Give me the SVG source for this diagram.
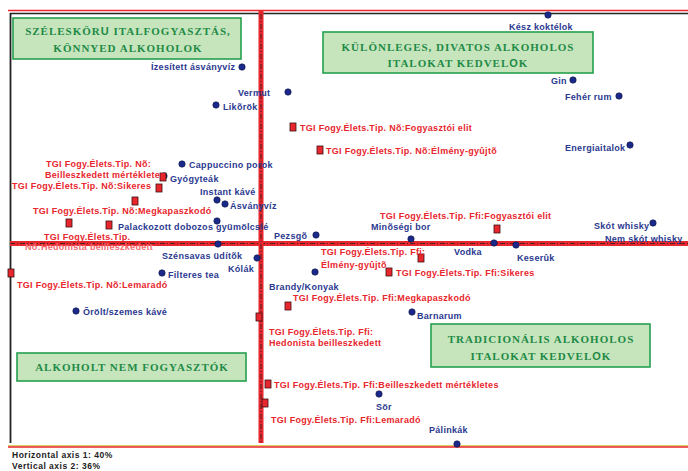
<svg xmlns="http://www.w3.org/2000/svg" width="688" height="471" viewBox="0 0 688 471">
<style>
.bl{font-family:"Liberation Sans",Arial,sans-serif;font-weight:bold;font-size:9px;letter-spacing:0.3px;fill:#2b3990}
.rd{font-family:"Liberation Sans",Arial,sans-serif;font-weight:bold;font-size:9px;letter-spacing:0.3px;fill:#e8262d}
.bx{fill:#c6e5bd;stroke:#26a04e;stroke-width:1.6}
.bt{font-family:"Liberation Serif","Times New Roman",serif;font-weight:bold;font-size:11px;letter-spacing:1px;fill:#1e8a45;text-anchor:middle}
.dot{fill:#1b2a8a;stroke:#0d1440;stroke-width:0.6}
.sq{fill:#e8262d;stroke:#3a1010;stroke-width:0.8}
.ft{font-family:"Liberation Sans",Arial,sans-serif;font-weight:bold;font-size:8.5px;letter-spacing:0.5px;fill:#222}
</style>
<rect x="0" y="0" width="688" height="471" fill="#fff"/>
<g id="frame">
<line x1="8" y1="10.5" x2="688" y2="10.5" stroke="#e8262d" stroke-width="1.5"/>
<line x1="10" y1="13.5" x2="688" y2="13.5" stroke="#222" stroke-width="1.6"/>
<line x1="10.5" y1="13" x2="10.5" y2="443" stroke="#222" stroke-width="1.8"/>
<line x1="8" y1="445.8" x2="688" y2="445.8" stroke="#c8b400" stroke-width="0.9"/>
<line x1="8" y1="447" x2="688" y2="447" stroke="#e8262d" stroke-width="1.3"/>
</g>
<g id="connectors">
<line x1="10" y1="243.5" x2="688" y2="243.5" stroke="#e8262d" stroke-width="5"/>
<line x1="10" y1="243.5" x2="688" y2="243.5" stroke="#222" stroke-width="0.8" stroke-dasharray="5 2 1 2"/>
<line x1="261" y1="10" x2="261" y2="443" stroke="#e8262d" stroke-width="5"/>
<line x1="261" y1="14" x2="261" y2="443" stroke="#222" stroke-width="0.8" stroke-dasharray="5 2 1 2"/>
</g>
<g id="box-szeleskoru">
<rect class="bx" x="13" y="18" width="228" height="41"/>
<text class="bt" x="128" y="35">SZÉLESKÖR<tspan font-family="'Liberation Sans',Arial,sans-serif">U</tspan> ITALFOGYASZTÁS,</text>
<text class="bt" x="128" y="52">KÖNNYED ALKOHOLOK</text>
</g>
<g id="box-kulonleges">
<rect class="bx" x="323" y="32" width="270" height="41"/>
<text class="bt" x="458" y="51">KÜLÖNLEGES, DIVATOS ALKOHOLOS</text>
<text class="bt" x="458" y="67">ITALOKAT KEDVEL<tspan font-family="'Liberation Sans',Arial,sans-serif">O</tspan>K</text>
</g>
<g id="box-tradicionalis">
<rect class="bx" x="431" y="324" width="219" height="43"/>
<text class="bt" x="541" y="343">TRADICIONÁLIS  ALKOHOLOS</text>
<text class="bt" x="541" y="360">ITALOKAT KEDVEL<tspan font-family="'Liberation Sans',Arial,sans-serif">O</tspan>K</text>
</g>
<g id="box-alkoholt-nem">
<rect class="bx" x="17" y="353" width="229" height="28"/>
<text class="bt" x="132" y="371">ALKOHOLT NEM FOGYASZTÓK</text>
</g>
<g id="n-izesitett"><circle class="dot" cx="242" cy="67" r="3.2"/><text class="bl" x="151" y="70">Ízesített ásványvíz</text></g>
<g id="n-vermut"><circle class="dot" cx="288" cy="92" r="3.2"/><text class="bl" x="238" y="96">Vermut</text></g>
<g id="n-likorok"><circle class="dot" cx="216" cy="105" r="3.2"/><text class="bl" x="223" y="110">Likõrök</text></g>
<g id="n-kesz"><circle class="dot" cx="548" cy="15" r="3.2"/><text class="bl" x="509" y="30">Kész koktélok</text></g>
<g id="n-gin"><circle class="dot" cx="573" cy="80" r="3.2"/><text class="bl" x="551" y="84">Gin</text></g>
<g id="n-feherrum"><circle class="dot" cx="619" cy="96" r="3.2"/><text class="bl" x="565" y="100">Fehér rum</text></g>
<g id="n-energia"><circle class="dot" cx="630" cy="145" r="3.2"/><text class="bl" x="565" y="151">Energiaitalok</text></g>
<g id="n-cappuccino"><circle class="dot" cx="182" cy="164" r="3.2"/><text class="bl" x="189" y="168">Cappuccino porok</text></g>
<g id="n-gyogyteak"><circle class="dot" cx="164" cy="176" r="3.2"/><text class="bl" x="170" y="182">Gyógyteák</text></g>
<g id="n-instant"><circle class="dot" cx="217" cy="200" r="3.2"/><text class="bl" x="200" y="195">Instant kávé</text></g>
<g id="n-asvanyviz"><circle class="dot" cx="225" cy="204" r="3.2"/><text class="bl" x="230" y="209">Ásványvíz</text></g>
<g id="n-palackozott"><circle class="dot" cx="217" cy="221" r="3.2"/><text class="bl" x="118" y="230">Palackozott dobozos gyümölcslé</text></g>
<g id="n-pezsgo"><circle class="dot" cx="316" cy="235" r="3.2"/><text class="bl" x="274" y="239">Pezsgõ</text></g>
<g id="n-minosegi"><circle class="dot" cx="411" cy="239" r="3.2"/><text class="bl" x="371" y="230">Minõségi bor</text></g>
<g id="n-skot"><circle class="dot" cx="653" cy="223" r="3.2"/><text class="bl" x="594" y="229">Skót whisky</text></g>
<g id="n-nemskot"><text class="bl" x="605" y="242">Nem skót whisky</text></g>
<g id="n-vodka"><circle class="dot" cx="494" cy="243" r="3.2"/><text class="bl" x="454" y="255">Vodka</text></g>
<g id="n-keseruk"><circle class="dot" cx="516" cy="245" r="3.2"/><text class="bl" x="517" y="261">Keserûk</text></g>
<g id="n-szensavas"><circle class="dot" cx="218" cy="244" r="3.2"/><text class="bl" x="162" y="259">Szénsavas üdítõk</text></g>
<g id="n-kolak"><circle class="dot" cx="257" cy="258" r="3.2"/><text class="bl" x="228" y="272">Kólák</text></g>
<g id="n-filteres"><circle class="dot" cx="162" cy="273" r="3.2"/><text class="bl" x="168" y="278">Filteres tea</text></g>
<g id="n-orolt"><circle class="dot" cx="76" cy="311" r="3.2"/><text class="bl" x="83" y="315">Õrölt/szemes kávé</text></g>
<g id="n-brandy"><circle class="dot" cx="315" cy="272" r="3.2"/><text class="bl" x="269" y="290">Brandy/Konyak</text></g>
<g id="n-barnarum"><circle class="dot" cx="412" cy="312" r="3.2"/><text class="bl" x="417" y="319">Barnarum</text></g>
<g id="n-sor"><circle class="dot" cx="379" cy="394" r="3.2"/><text class="bl" x="376" y="410">Sör</text></g>
<g id="n-palinkak"><circle class="dot" cx="457" cy="444" r="3.2"/><text class="bl" x="429" y="433">Pálinkák</text></g>
<g id="t-no-fogyasztoi"><rect class="sq" x="290" y="123" width="6" height="8"/><text class="rd" x="300" y="131">TGI Fogy.Élets.Tip. Nõ:Fogyasztói elit</text></g>
<g id="t-no-elmeny"><rect class="sq" x="317" y="146" width="6" height="8"/><text class="rd" x="326" y="154">TGI Fogy.Élets.Tip. Nõ:Élmény-gyûjtõ</text></g>
<g id="t-no-beill"><rect class="sq" x="160" y="173" width="6" height="8"/><text class="rd" x="46" y="167">TGI Fogy.Élets.Tip. Nõ:</text><text class="rd" x="45" y="178">Beilleszkedett mértékletes</text></g>
<g id="t-no-sikeres"><rect class="sq" x="156" y="184" width="6" height="8"/><text class="rd" x="12" y="189">TGI Fogy.Élets.Tip. Nõ:Sikeres</text></g>
<g id="t-no-megkap"><rect class="sq" x="132" y="197" width="6" height="8"/><text class="rd" x="33" y="214">TGI Fogy.Élets.Tip. Nõ:Megkapaszkodó</text></g>
<g id="t-sq-a"><rect class="sq" x="66" y="219" width="6" height="8"/></g>
<g id="t-sq-b"><rect class="sq" x="106" y="221" width="6" height="8"/></g>
<g id="t-no-hedon"><text class="rd" x="44" y="240">TGI Fogy.Élets.Tip.</text><text class="rd" x="25" y="250" style="fill:#f26a6f">Nõ:Hedonista beilleszkedett</text></g>
<g id="t-no-lemarado"><rect class="sq" x="8" y="269" width="6" height="8"/><text class="rd" x="17" y="288">TGI Fogy.Élets.Tip. Nõ:Lemaradó</text></g>
<g id="t-ffi-fogyasztoi"><rect class="sq" x="494" y="225" width="6" height="8"/><text class="rd" x="380" y="219">TGI Fogy.Élets.Tip. Ffi:Fogyasztói elit</text></g>
<g id="t-ffi-elmeny"><rect class="sq" x="418" y="254" width="6" height="8"/><text class="rd" x="321" y="255">TGI Fogy.Élets.Tip. Ffi:</text><text class="rd" x="321" y="268">Élmény-gyûjtõ</text></g>
<g id="t-ffi-sikeres"><rect class="sq" x="386" y="268" width="6" height="8"/><text class="rd" x="396" y="276">TGI Fogy.Élets.Tip. Ffi:Sikeres</text></g>
<g id="t-ffi-megkap"><rect class="sq" x="285" y="302" width="6" height="8"/><text class="rd" x="293" y="301">TGI Fogy.Élets.Tip. Ffi:Megkapaszkodó</text></g>
<g id="t-ffi-hedon"><rect class="sq" x="256" y="313" width="6" height="8"/><text class="rd" x="269" y="335">TGI Fogy.Élets.Tip. Ffi:</text><text class="rd" x="269" y="346">Hedonista beilleszkedett</text></g>
<g id="t-ffi-beill"><rect class="sq" x="265" y="380" width="6" height="8"/><text class="rd" x="274" y="388">TGI Fogy.Élets.Tip. Ffi:Beilleszkedett mértékletes</text></g>
<g id="t-ffi-lemarado"><rect class="sq" x="262" y="399" width="6" height="8"/><text class="rd" x="271" y="423">TGI Fogy.Élets.Tip. Ffi:Lemaradó</text></g>
<g id="footer">
<text class="ft" x="12" y="458">Horizontal axis 1: 40%</text>
<text class="ft" x="12" y="469">Vertical axis 2: 36%</text>
</g>
</svg>
